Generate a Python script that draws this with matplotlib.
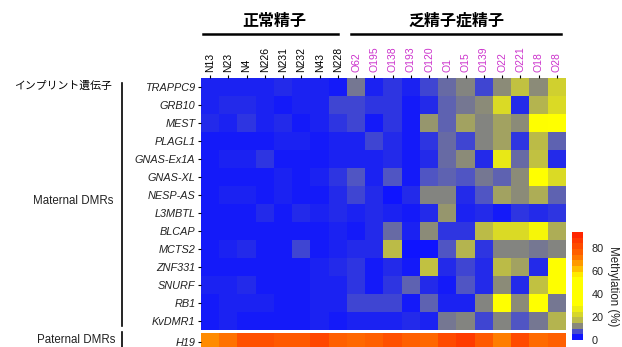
import numpy as np
import matplotlib
matplotlib.use("Agg")
import matplotlib.pyplot as plt
from matplotlib.colors import LinearSegmentedColormap, Normalize
import matplotlib.cm as cm

plt.rcParams['font.family'] = ['Liberation Sans', 'DejaVu Sans']

normal_samples = ["N13", "N23", "N4", "N226", "N231", "N232", "N43", "N228"]
oligo_samples = ["O62", "O195", "O138", "O193", "O120", "O1", "O15", "O139",
                 "O22", "O221", "O18", "O28"]
maternal_genes = ["TRAPPC9", "GRB10", "MEST", "PLAGL1", "GNAS-Ex1A", "GNAS-XL",
                  "NESP-AS", "L3MBTL", "BLCAP", "MCTS2", "ZNF331", "SNURF", "RB1", "KvDMR1"]
paternal_genes = ["H19"]

# methylation (%) per gene, normal samples
maternal_normal = [
    [2, 2, 2, 2, 3, 2, 2, 1],
    [2, 3, 3, 2, 1, 2, 2, 5],
    [3, 2, 4, 2, 3, 1, 2, 4],
    [1, 1, 1, 1, 2, 2, 1, 2],
    [1, 2, 2, 4, 1, 1, 1, 2],
    [1, 1, 1, 1, 2, 1, 2, 4],
    [1, 2, 2, 1, 2, 1, 1, 3],
    [1, 1, 1, 3, 1, 3, 2, 3],
    [1, 1, 1, 1, 1, 1, 1, 2],
    [1, 2, 3, 1, 1, 5, 1, 2],
    [1, 1, 1, 1, 1, 1, 2, 3],
    [2, 2, 3, 1, 1, 1, 2, 2],
    [1, 2, 2, 2, 1, 1, 2, 2],
    [1, 2, 1, 1, 1, 1, 2, 1],
]
# methylation (%) per gene, oligozoospermic samples
maternal_oligo = [
    [9, 2, 4, 2, 5, 8, 10, 5, 11, 17, 11, 20],
    [5, 4, 4, 1, 3, 7, 9, 11, 22, 3, 15, 22],
    [5, 1, 4, 1, 12, 7, 13, 10, 13, 11, 30, 35],
    [2, 5, 3, 1, 4, 8, 5, 10, 13, 4, 16, 7],
    [2, 2, 3, 1, 3, 8, 11, 3, 25, 8, 17, 3],
    [6, 2, 6, 1, 6, 7, 6, 9, 7, 11, 33, 22],
    [5, 3, 0, 3, 10, 10, 3, 6, 13, 11, 14, 7],
    [2, 3, 2, 1, 3, 12, 2, 3, 1, 4, 3, 4],
    [1, 3, 8, 2, 11, 4, 4, 16, 22, 22, 28, 14],
    [3, 3, 16, 0, 0, 6, 15, 4, 10, 10, 9, 10],
    [4, 1, 3, 1, 17, 3, 5, 3, 16, 13, 3, 30],
    [4, 1, 4, 7, 3, 1, 6, 3, 11, 3, 17, 30],
    [5, 5, 5, 1, 7, 2, 2, 10, 40, 11, 40, 9],
    [2, 2, 2, 3, 2, 9, 10, 5, 10, 6, 9, 15],
]
paternal_normal = [[70, 74, 82, 82, 80, 80, 85, 78]]
paternal_oligo = [[76, 78, 82, 78, 76, 84, 88, 80, 72, 84, 75, 78]]

group_labels = ["正常精子", "乏精子症精子"]
side_labels = ["インプリント遺伝子", "Maternal DMRs", "Paternal DMRs"]
cbar_label = "Methylation (%)"
cbar_ticks = [0, 20, 40, 60, 80]

samples = normal_samples + oligo_samples
mat = np.hstack([np.array(maternal_normal), np.array(maternal_oligo)])
pat = np.hstack([np.array(paternal_normal), np.array(paternal_oligo)])

vmin, vmax = 0, 94
nodes = [
    (0, (0.06, 0.08, 1.0)),
    (3, (0.14, 0.17, 0.92)),
    (6, (0.32, 0.34, 0.76)),
    (10, (0.52, 0.52, 0.50)),
    (15, (0.72, 0.72, 0.30)),
    (22, (0.86, 0.86, 0.14)),
    (30, (1.0, 1.0, 0.0)),
    (55, (1.0, 1.0, 0.0)),
    (65, (1.0, 0.68, 0.0)),
    (75, (1.0, 0.42, 0.0)),
    (94, (1.0, 0.15, 0.0)),
]
cmap = LinearSegmentedColormap.from_list(
    "meth", [((v - vmin) / (vmax - vmin), c) for v, c in nodes])
norm = Normalize(vmin, vmax)

W, H = 622, 347
fig = plt.figure(figsize=(W / 100, H / 100), dpi=100)

def fx(px):
    return px / W

def fy(py):
    return 1 - py / H

jp = ['Noto Sans CJK JP', 'DejaVu Sans']

left, right = 201, 566
top_m, bot_m = 78, 330
ax = fig.add_axes([fx(left), fy(bot_m), fx(right - left), (bot_m - top_m) / H])
ax.imshow(mat, cmap=cmap, norm=norm, aspect='auto', interpolation='nearest')
ax.set_yticks(range(len(maternal_genes)))
ax.set_yticklabels(maternal_genes, fontstyle='italic', fontsize=7.8, color='#222222')
ax.set_xticks(range(len(samples)))
ax.xaxis.tick_top()
ax.set_xticklabels(samples, rotation=90, fontsize=7.5)
for i, t in enumerate(ax.get_xticklabels()):
    t.set_color('black' if i < len(normal_samples) else '#cc33cc')
ax.tick_params(axis='both', length=2, width=0.8, pad=2)
for s in ax.spines.values():
    s.set_visible(False)

ax2 = fig.add_axes([fx(left), fy(351), fx(right - left), 18 / H])
ax2.imshow(pat, cmap=cmap, norm=norm, aspect='auto', interpolation='nearest')
ax2.set_yticks([0])
ax2.set_yticklabels(paternal_genes, fontstyle='italic', fontsize=7.8, color='#222222')
ax2.set_xticks([])
ax2.tick_params(axis='y', length=2, width=0.8, pad=2)
for s in ax2.spines.values():
    s.set_visible(False)

# group headers
nN = len(normal_samples)
colw = (right - left) / len(samples)
fig.text(fx(left + colw * nN / 2), fy(21), group_labels[0], ha='center', va='center',
         fontsize=11.5, fontweight='bold', family=jp)
fig.text(fx(left + colw * nN + colw * len(oligo_samples) / 2), fy(21), group_labels[1],
         ha='center', va='center', fontsize=11.5, fontweight='bold', family=jp)
fig.add_artist(plt.Line2D([fx(203), fx(338)], [fy(34), fy(34)], color='black', lw=1.8))
fig.add_artist(plt.Line2D([fx(351), fx(561)], [fy(34), fy(34)], color='black', lw=1.8))

# side brackets and labels
fig.add_artist(plt.Line2D([fx(121.5), fx(121.5)], [fy(83), fy(326)], color='black', lw=1.2))
fig.add_artist(plt.Line2D([fx(121.5), fx(121.5)], [fy(332), fy(350)], color='black', lw=1.2))
fig.text(fx(112), fy(86), side_labels[0], ha='right', va='center', fontsize=7.8, family=jp)
fig.text(fx(113), fy(201), side_labels[1], ha='right', va='center', fontsize=8.3, color='#222222')
fig.text(fx(115), fy(340), side_labels[2], ha='right', va='center', fontsize=8.3, color='#222222')

# colorbar
cax = fig.add_axes([fx(572), fy(340), fx(11), 108 / H])
cmap_d = cmap.resampled(19)
sm = cm.ScalarMappable(norm=norm, cmap=cmap_d)
cb = fig.colorbar(sm, cax=cax, ticks=cbar_ticks)
cb.outline.set_visible(False)
cb.ax.tick_params(length=0, labelsize=7.8, pad=6, colors='#222222')
cb.set_label(cbar_label, rotation=270, fontsize=8.3, labelpad=11, color='#222222')

fig.savefig("out.png", dpi=100)
